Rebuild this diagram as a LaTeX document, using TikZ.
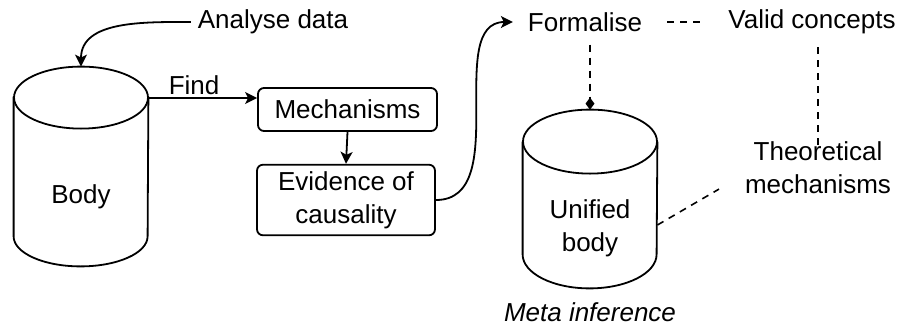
\documentclass[tikz,border=0pt]{standalone}
\usepackage{fontspec}
\setmainfont{Liberation Sans}
\usetikzlibrary{arrows.meta,positioning}

\begin{document}
\begin{tikzpicture}[
  x=0.5pt, y=-0.5pt,
  every node/.style={font=\fontsize{13}{16.5}\selectfont},
  store/.style={minimum width=67pt, inner sep=0pt},
  storeline/.style={draw, line width=0.9pt, fill=white},
  box/.style={draw, rounded corners=3pt, align=center, line width=0.9pt},
  arrow/.style={-{Stealth[length=6pt, width=6pt, inset=1.5pt]}, line width=0.9pt},
  link/.style={dashed, dash pattern=on 3.5pt off 3pt, line width=0.8pt}
]
  \useasboundingbox (0,0) rectangle (901,327);

  % Stores
  \node[store, minimum height=99.5pt] (body) at (81,166.5) {};
  \path[storeline] ([yshift=-15pt]body.north west) -- ([yshift=15pt]body.south west)
    arc[start angle=180, end angle=360, x radius=33.5pt, y radius=15pt] -- ([yshift=-15pt]body.north east);
  \path[storeline] ([yshift=-15.5pt]body.north) ellipse [x radius=33.5pt, y radius=15.5pt];
  \node (bodytext) at (81,197) {Body};

  \node[store, minimum height=89pt] (unified) at (590,199) {};
  \path[storeline] ([yshift=-16pt]unified.north west) -- ([yshift=17pt]unified.south west)
    arc[start angle=180, end angle=360, x radius=33.5pt, y radius=17pt] -- ([yshift=-16pt]unified.north east);
  \path[storeline] ([yshift=-16pt]unified.north) ellipse [x radius=33.5pt, y radius=16pt];
  \node[align=center] (unitext) at (590,228) {Unified\\body};
  \node (meta) at (590,312) {\itshape Meta inference};

  % Steps
  \node[box, minimum width=89.5pt, minimum height=21.5pt] (mech) at (347.5,109.5) {Mechanisms};
  \node[box, minimum width=89pt, minimum height=33pt] (evid) at (346,200) {Evidence of\\causality};

  % Labels
  \node (analyse) at (273,22) {Analyse data};
  \node (formalise) at (585,22) {Formalise};
  \node (valid) at (812,22) {Valid concepts};
  \node[align=center] (theory) at (818,168) {Theoretical\\mechanisms};

  % Arrows
  \draw[arrow] (analyse.west) to[out=180, in=90] (body.north);
  \draw[arrow] (body.east |- 0,98) -- node[above, pos=0.42, yshift=-2pt] {Find} (mech.west |- 0,98);
  \draw[arrow] (mech.south) -- (evid.north);
  \draw[arrow, shorten >=4pt] (evid.east) to[out=0, in=180] (formalise.west);

  % Links
  \draw[link, shorten <=9pt, shorten >=9pt] (formalise.east) -- (valid.west);
  \draw[link, -{Diamond[length=6pt, width=4.5pt]}, shorten <=3pt] (unified.north |- formalise.south) -- (unified.north);
  \draw[link, shorten <=3pt, shorten >=-7pt] (theory.north |- valid.south) -- (theory.north);
  \draw[link] ([yshift=-13pt]unified.east) -- ([shift={(-9.5pt,6pt)}]theory.south west);
\end{tikzpicture}
\end{document}
